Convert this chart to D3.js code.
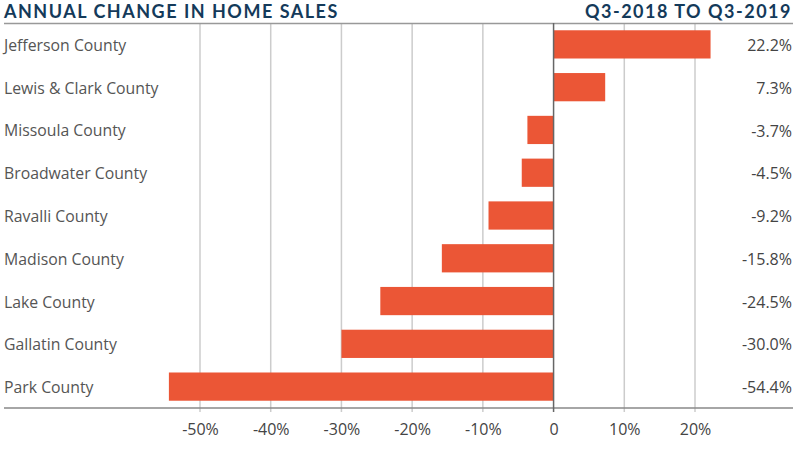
<!DOCTYPE html>
<html><head><meta charset="utf-8">
<script src="https://cdn.jsdelivr.net/npm/d3@7"></script>
<style>body{margin:0;background:#fff}</style>
</head><body>
<svg id="c" width="800" height="451"></svg>
<script>
const categories = ["Jefferson County","Lewis & Clark County","Missoula County","Broadwater County","Ravalli County","Madison County","Lake County","Gallatin County","Park County"];
const values = [22.2, 7.3, -3.7, -4.5, -9.2, -15.8, -24.5, -30.0, -54.4];
const tickValues = [-50,-40,-30,-20,-10,0,10,20];
const tickLabels = ["-50%","-40%","-30%","-20%","-10%","0","10%","20%"];

const svg = d3.select("#c");
const font = "'Open Sans', Lato, sans-serif";
const tfont = "Lato, 'Open Sans', sans-serif";
const x = d3.scaleLinear().domain([-50,20]).range([200,695]);
const y = d3.scaleBand().domain(categories).range([23,408]).paddingInner(0.34).paddingOuter(0.17);

// gridlines
svg.append("g").selectAll("line").data(tickValues.filter(v=>v!==0)).join("line")
  .attr("x1",d=>x(d)).attr("x2",d=>x(d)).attr("y1",23).attr("y2",412)
  .attr("stroke","#cccccc").attr("stroke-width",1.5);

// title
svg.append("text").attr("x",4).attr("y",18).text("ANNUAL CHANGE IN HOME SALES")
  .attr("font-family",tfont).attr("font-weight",700).attr("font-size",18).attr("letter-spacing",1.5).attr("fill","#143a5a");
svg.append("text").attr("x",792).attr("y",18).attr("text-anchor","end").text("Q3-2018 TO Q3-2019")
  .attr("font-family",tfont).attr("font-weight",700).attr("font-size",18).attr("letter-spacing",1.5).attr("fill","#143a5a");

svg.append("line").attr("x1",4).attr("x2",793).attr("y1",23.5).attr("y2",23.5).attr("stroke","#999").attr("stroke-width",1.5);

// bars
svg.append("g").selectAll("rect").data(values).join("rect")
  .attr("x",(d)=>x(Math.min(0,d))).attr("width",d=>Math.abs(x(d)-x(0)))
  .attr("y",(d,i)=>y(categories[i])).attr("height",y.bandwidth())
  .attr("fill","#eb5636");

svg.append("line").attr("x1",4).attr("x2",793).attr("y1",408).attr("y2",408).attr("stroke","#888").attr("stroke-width",1.5);
svg.append("line").attr("x1",x(0)).attr("x2",x(0)).attr("y1",23).attr("y2",412).attr("stroke","#666").attr("stroke-width",1.5);

// category labels
svg.append("g").selectAll("text").data(categories).join("text")
  .attr("x",4).attr("y",d=>y(d)+y.bandwidth()/2+1).attr("dy","0.35em").text(d=>d)
  .attr("font-family",font).attr("font-size",15.8).attr("fill","#555");

// value labels
svg.append("g").selectAll("text").data(values).join("text")
  .attr("x",792).attr("y",(d,i)=>y(categories[i])+y.bandwidth()/2+1).attr("dy","0.35em").attr("text-anchor","end")
  .text(d=>d.toFixed(1)+"%")
  .attr("font-family",font).attr("font-weight",500).attr("font-size",16).attr("fill","#444");

// x axis
const ax = svg.append("g").attr("transform","translate(0,408)")
  .call(d3.axisBottom(x).tickValues(tickValues).tickFormat((d,i)=>tickLabels[i]).tickSize(0).tickPadding(16));
ax.select(".domain").remove();
ax.selectAll("text").attr("font-family",font).attr("font-size",16).attr("fill","#444");
</script>
</body></html>
